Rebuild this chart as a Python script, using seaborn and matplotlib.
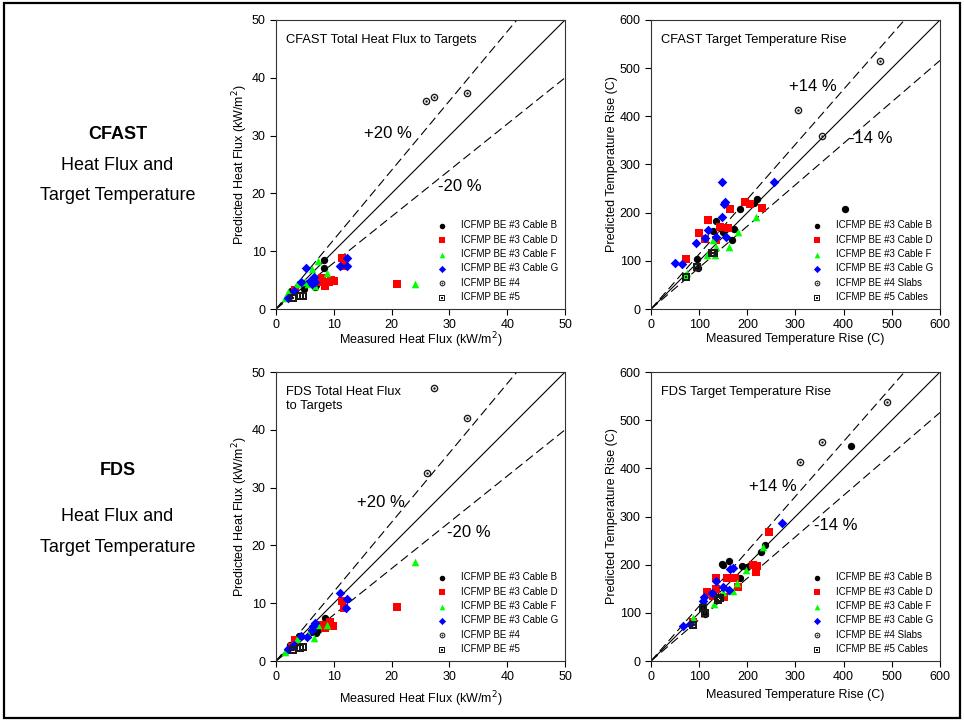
import matplotlib
matplotlib.use("Agg")
import matplotlib.pyplot as plt
import numpy as np
import pandas as pd
import seaborn as sns
from matplotlib.patches import Rectangle
from matplotlib.path import Path

# ---- data ----
SERIES_HF = ["ICFMP BE #3 Cable B", "ICFMP BE #3 Cable D", "ICFMP BE #3 Cable F",
             "ICFMP BE #3 Cable G", "ICFMP BE #4", "ICFMP BE #5"]
SERIES_T = ["ICFMP BE #3 Cable B", "ICFMP BE #3 Cable D", "ICFMP BE #3 Cable F",
            "ICFMP BE #3 Cable G", "ICFMP BE #4 Slabs", "ICFMP BE #5 Cables"]

# CFAST heat flux (measured, predicted) per series
cfast_hf_B = [(2.3, 2.4), (2.6, 3.1), (5.5, 4.5), (6.8, 3.8), (7.0, 4.2), (8.3, 8.5), (8.3, 7.1), (4.8, 3.5)]
cfast_hf_D = [(11.4, 8.8), (11.7, 7.4), (7.9, 5.3), (8.5, 4.0), (9.6, 5.0), (9.2, 4.6), (10.0, 4.9),
              (7.5, 4.7), (21.0, 4.3), (3.3, 3.3)]
cfast_hf_F = [(7.3, 8.3), (6.2, 7.0), (8.8, 6.2), (24.0, 4.3), (3.6, 4.4), (2.1, 3.0), (1.6, 1.9),
              (5.0, 4.7), (6.7, 3.9), (5.6, 4.4)]
cfast_hf_G = [(5.2, 7.1), (11.1, 7.4), (12.2, 7.4), (12.2, 8.8), (6.5, 5.6), (4.4, 4.6), (6.2, 4.4),
              (6.8, 4.7), (3.2, 3.1), (2.0, 1.9), (5.8, 4.8)]
cfast_hf_4 = [(25.9, 35.9), (27.3, 36.6), (33.0, 37.4)]
cfast_hf_5 = [(3.0, 1.9), (4.2, 2.3), (4.6, 2.3)]

# CFAST target temperature rise
cfast_t_B = [(403, 207), (221, 228), (214, 221), (185, 207), (172, 166), (169, 143), (136, 183),
             (129, 162), (143, 168), (95, 103), (98, 86), (150, 160)]
cfast_t_D = [(195, 223), (206, 219), (230, 209), (164, 208), (118, 185), (100, 157), (112, 145),
             (143, 171), (160, 168), (136, 143), (73, 103)]
cfast_t_F = [(218, 190), (181, 159), (129, 143), (136, 129), (162, 129), (116, 112), (133, 112),
             (74, 74), (70, 70)]
cfast_t_G = [(147, 263), (256, 263), (154, 223), (152, 219), (147, 192), (119, 164), (112, 148),
             (93, 138), (156, 150), (136, 150), (50, 96), (65, 93)]
cfast_t_4 = [(475, 515), (305, 413), (355, 360)]
cfast_t_5 = [(126, 116), (130, 116), (95, 88), (73, 67)]

# FDS heat flux
fds_hf_B = [(8.4, 7.5), (7.0, 4.9), (7.2, 5.4), (3.9, 4.3), (2.4, 2.8), (6.0, 5.0)]
fds_hf_D = [(21.0, 9.3), (11.4, 10.4), (11.8, 9.2), (8.5, 5.7), (9.3, 6.8), (9.9, 6.1), (7.9, 6.2),
            (3.3, 3.6), (2.8, 2.4)]
fds_hf_F = [(24.0, 17.2), (6.5, 3.9), (7.3, 6.2), (8.8, 6.2), (3.6, 3.8), (1.6, 1.6), (5.6, 4.6)]
fds_hf_G = [(11.1, 11.7), (12.2, 10.8), (12.1, 9.1), (6.7, 6.5), (6.2, 5.4), (4.4, 4.3), (5.3, 4.2),
            (3.2, 2.8), (2.0, 2.0), (6.4, 6.0)]
fds_hf_4 = [(27.3, 47.2), (33.0, 42.1), (26.1, 32.5)]
fds_hf_5 = [(3.0, 1.9), (4.2, 2.2), (4.6, 2.4)]

# FDS target temperature rise
fds_t_B = [(416, 446), (237, 241), (229, 227), (162, 208), (147, 201), (150, 199), (188, 197),
           (200, 196), (185, 172), (107, 116), (108, 109), (112, 97)]
fds_t_D = [(244, 268), (212, 199), (221, 197), (219, 184), (134, 172), (157, 173), (174, 173),
           (134, 149), (116, 144), (129, 135), (152, 133), (180, 153), (88, 82)]
fds_t_F = [(233, 237), (197, 189), (178, 161), (171, 146), (149, 143), (131, 118), (88, 90), (85, 85)]
fds_t_G = [(271, 287), (164, 192), (170, 194), (134, 166), (150, 153), (162, 147), (126, 142),
           (111, 133), (109, 125), (66, 73), (80, 77)]
fds_t_4 = [(489, 538), (356, 455), (309, 414)]
fds_t_5 = [(143, 130), (140, 127), (109, 111), (112, 99), (88, 75)]


def ring_marker(n_sides):
    """Outline shape with a hole and a centre dot (n_sides=4 -> square, large -> circle)."""
    if n_sides == 4:
        ang = np.deg2rad([45, 135, 225, 315])
        scale = np.sqrt(2)
    else:
        ang = np.linspace(0, 2 * np.pi, n_sides, endpoint=False)
        scale = 1.0
    unit = np.column_stack([np.cos(ang), np.sin(ang)]) * scale
    parts = []
    for r, rev in ((1.0, False), (0.64, True), (0.32, False)):
        pts = unit * r
        if rev:
            pts = pts[::-1]
        verts = np.vstack([pts, pts[:1]])
        codes = [Path.MOVETO] + [Path.LINETO] * (len(pts) - 1) + [Path.CLOSEPOLY]
        parts.append(Path(verts, codes))
    return Path.make_compound_path(*parts)


COLORS = ["black", "#ff0000", "#00ff00", "#0000ff", "#1a1a1a", "#1a1a1a"]
MARKERS = ["o", "s", "^", "D", ring_marker(40), ring_marker(4)]
SIZES = [28, 26, 30, 24, 30, 26]


def make_frame(groups, names):
    rows = []
    for name, pts in zip(names, groups):
        for mx, px in pts:
            rows.append({"series": name, "measured": mx, "predicted": px})
    return pd.DataFrame(rows)


def draw_panel(ax, df, names, lim, step, pct, title, xlabel, ylabel, plus_xy, minus_xy, xpad):
    xs = np.array([0, lim])
    ax.plot(xs, xs, color="black", lw=0.8, zorder=1)
    ax.plot(xs, xs * (1 + pct / 100), color="black", lw=0.8, ls=(0, (8, 4)), zorder=1)
    ax.plot(xs, xs * (1 - pct / 100), color="black", lw=0.8, ls=(0, (8, 4)), zorder=1)
    for i, name in enumerate(names):
        sub = df[df["series"] == name]
        sns.scatterplot(data=sub, x="measured", y="predicted", ax=ax, color=COLORS[i],
                        marker=MARKERS[i], s=SIZES[i], linewidth=0, label=name, zorder=3)
    ax.set_xlim(0, lim)
    ax.set_ylim(0, lim)
    ax.set_xticks(np.arange(0, lim + 1, step))
    ax.set_yticks(np.arange(0, lim + 1, step))
    ax.tick_params(direction="out", length=4, width=0.8, labelsize=9, colors="black")
    for sp in ax.spines.values():
        sp.set_visible(True)
        sp.set_linewidth(0.8)
        sp.set_color("#333333")
    ax.set_xlabel(xlabel, fontsize=9, labelpad=xpad)
    ax.set_ylabel(ylabel, fontsize=9, labelpad=1)
    ax.text(0.035, 0.95, title, transform=ax.transAxes, fontsize=9.3, va="top", ha="left",
            linespacing=1.2)
    ax.text(plus_xy[0], plus_xy[1], f"+{pct} %", fontsize=12, ha="center", va="center")
    ax.text(minus_xy[0], minus_xy[1], f"-{pct} %", fontsize=12, ha="center", va="center")
    leg = ax.legend(loc="lower right", frameon=False, fontsize=7, markerscale=0.75,
                    handletextpad=0.9, labelspacing=0.45, borderaxespad=0.3)
    return leg


sns.set_style("ticks")
plt.rcParams["font.family"] = ["Liberation Sans", "DejaVu Sans"]
plt.rcParams["mathtext.fontset"] = "dejavusans"
plt.rcParams["text.color"] = "black"
plt.rcParams["axes.labelcolor"] = "black"

fig = plt.figure(figsize=(9.64, 7.21), dpi=100)
ax1 = fig.add_axes([0.2863, 0.5714, 0.2998, 0.4009])
ax2 = fig.add_axes([0.6753, 0.5714, 0.2998, 0.4009])
ax3 = fig.add_axes([0.2863, 0.0832, 0.2998, 0.4008])
ax4 = fig.add_axes([0.6753, 0.0832, 0.2998, 0.4008])

hf_x = "Measured Heat Flux (kW/m$^2$)"
hf_y = "Predicted Heat Flux (kW/m$^2$)"
t_x = "Measured Temperature Rise (C)"
t_y = "Predicted Temperature Rise (C)"

draw_panel(ax1, make_frame([cfast_hf_B, cfast_hf_D, cfast_hf_F, cfast_hf_G, cfast_hf_4, cfast_hf_5], SERIES_HF),
           SERIES_HF, 50, 10, 20, "CFAST Total Heat Flux to Targets", hf_x, hf_y, (19.4, 30.4), (31.8, 21.2), -0.5)
draw_panel(ax2, make_frame([cfast_t_B, cfast_t_D, cfast_t_F, cfast_t_G, cfast_t_4, cfast_t_5], SERIES_T),
           SERIES_T, 600, 100, 14, "CFAST Target Temperature Rise", t_x, t_y, (337, 461), (456, 354), 1)
draw_panel(ax3, make_frame([fds_hf_B, fds_hf_D, fds_hf_F, fds_hf_G, fds_hf_4, fds_hf_5], SERIES_HF),
           SERIES_HF, 50, 10, 20, "FDS Total Heat Flux\nto Targets", hf_x, hf_y, (18.2, 27.5), (33.3, 22.2), 4)
draw_panel(ax4, make_frame([fds_t_B, fds_t_D, fds_t_F, fds_t_G, fds_t_4, fds_t_5], SERIES_T),
           SERIES_T, 600, 100, 14, "FDS Target Temperature Rise", t_x, t_y, (254, 363), (384, 281), 4)

# left-hand row labels
fig.text(0.122, 0.813, "CFAST", fontsize=13, fontweight="bold", ha="center", va="center")
fig.text(0.122, 0.771, "Heat Flux and", fontsize=13, ha="center", va="center")
fig.text(0.122, 0.7295, "Target Temperature", fontsize=13, ha="center", va="center")
fig.text(0.122, 0.348, "FDS", fontsize=13, fontweight="bold", ha="center", va="center")
fig.text(0.122, 0.283, "Heat Flux and", fontsize=13, ha="center", va="center")
fig.text(0.122, 0.240, "Target Temperature", fontsize=13, ha="center", va="center")

fig.add_artist(Rectangle((0.004, 0.004), 0.992, 0.992, transform=fig.transFigure,
                         fill=False, edgecolor="black", linewidth=1.6))

fig.savefig("out.png", dpi=100)
